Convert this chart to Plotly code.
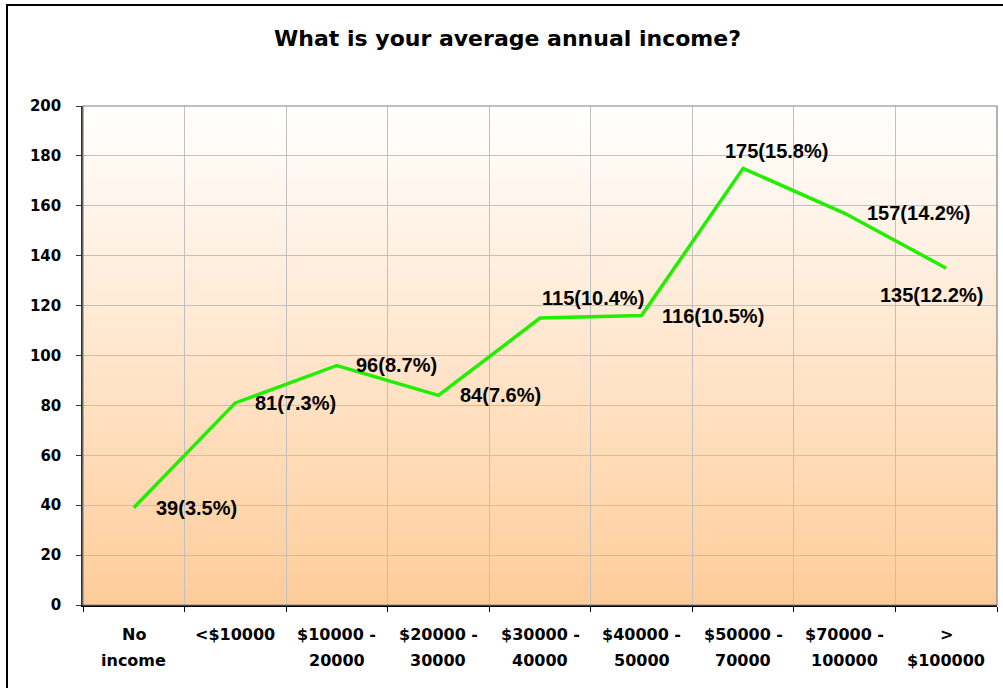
import plotly.graph_objects as go

# ---- data ----
categories = ["No income", "<$10000", "$10000 - 20000", "$20000 - 30000",
              "$30000 - 40000", "$40000 - 50000", "$50000 - 70000",
              "$70000 - 100000", "> $100000"]
tick_line1 = ["No", "&lt;$10000", "$10000 -", "$20000 -", "$30000 -",
              "$40000 -", "$50000 -", "$70000 -", "&gt;"]
tick_line2 = ["income", "", "20000", "30000", "40000", "50000", "70000",
              "100000", "$100000"]
counts = [39, 81, 96, 84, 115, 116, 175, 157, 135]
percents = [3.5, 7.3, 8.7, 7.6, 10.4, 10.5, 15.8, 14.2, 12.2]
title_text = "What is your average annual income?"

# ---- label placement (style) ----
label_dx = [20, 18, 17, 20, 0, 18, -20, 20, -68]
label_dy = [0, 0, 0, 0, -20, 0, -17, 0, 27]

W, H = 1003, 688
ML, MR, MT, MB = 83, 6, 106, 83
PW, PH = W - ML - MR, H - MT - MB

fig = go.Figure()
fig.add_trace(go.Scatter(
    x=categories, y=counts, mode="lines",
    line=dict(color="#22EE00", width=3.5),
    hoverinfo="skip", showlegend=False,
))

label_font = dict(family="Liberation Sans, Arial, sans-serif", size=20, color="black", weight="bold")
tick_font = dict(family="DejaVu Sans, Verdana, sans-serif", size=15, color="black", weight="bold")
xtick_font = dict(family="DejaVu Sans, Verdana, sans-serif", size=16, color="black", weight="bold")

annotations = []
for c, v, p, dx, dy in zip(categories, counts, percents, label_dx, label_dy):
    annotations.append(dict(
        x=c, y=v, xref="x", yref="y", text=f"{v}({p}%)", showarrow=False,
        xanchor="left", yanchor="middle", xshift=dx, yshift=-dy,
        font=label_font,
    ))
# category labels (two lines, Excel-like spacing)
for c, l1, l2 in zip(categories, tick_line1, tick_line2):
    annotations.append(dict(x=c, y=0, xref="x", yref="paper", text=l1, showarrow=False,
                            xanchor="center", yanchor="middle", yshift=-29, font=xtick_font))
    if l2:
        annotations.append(dict(x=c, y=0, xref="x", yref="paper", text=l2, showarrow=False,
                                xanchor="center", yanchor="middle", yshift=-55, font=xtick_font))

shapes = []
# gradient background (white -> peach)
n = 120
top = (255, 255, 255)
bot = (255, 204, 153)
for i in range(n):
    t = (i + 0.5) / n  # 0 at bottom
    col = tuple(round(bot[k] + (top[k] - bot[k]) * t) for k in range(3))
    shapes.append(dict(
        type="rect", xref="x domain", yref="y domain",
        x0=0, x1=1, y0=i / n, y1=(i + 1) / n + 0.002,
        fillcolor="rgb(%d,%d,%d)" % col, line=dict(width=0), layer="below",
    ))
# plot area border (gray)
shapes.append(dict(type="rect", xref="x domain", yref="y domain",
                   x0=0, x1=1, y0=0, y1=1, line=dict(color="#808080", width=1.2),
                   layer="above"))
# outer chart border
shapes.append(dict(type="rect", xref="paper", yref="paper",
                   x0=(7 - ML) / PW, x1=(1012 - ML) / PW,
                   y0=(H - MB - 700) / PH, y1=(H - MB - 5) / PH,
                   line=dict(color="black", width=2)))

fig.update_layout(
    width=W, height=H,
    margin=dict(l=ML, r=MR, t=MT, b=MB),
    paper_bgcolor="white", plot_bgcolor="rgba(0,0,0,0)",
    title=dict(text=title_text, x=507.5 / W, xanchor="center", xref="container",
               y=1 - 38 / H, yanchor="middle", yref="container",
               font=dict(family="DejaVu Sans, Arial, sans-serif", size=22, color="black", weight="bold")),
    shapes=shapes, annotations=annotations,
    showlegend=False,
)
fig.update_xaxes(
    type="category", categoryorder="array", categoryarray=categories,
    tickson="boundaries", showticklabels=False,
    range=[-0.5, len(categories) - 0.5],
    showgrid=True, gridcolor="#C0C0C0", gridwidth=1,
    showline=True, linecolor="black", linewidth=1.5,
    ticks="outside", ticklen=5, tickcolor="black", tickwidth=1,
    fixedrange=True,
)
fig.update_yaxes(
    range=[0, 200], dtick=20, tick0=0,
    showgrid=True, gridcolor="#C0C0C0", gridwidth=1,
    showline=True, linecolor="#333333", linewidth=1.5,
    ticks="outside", ticklen=5, tickcolor="#333333", tickwidth=1,
    tickfont=tick_font, ticklabelstandoff=12, zeroline=False, fixedrange=True,
)

fig.write_html("out.html", config={"displayModeBar": False},
               post_script="document.body.style.margin='0';document.body.style.overflow='hidden';")
